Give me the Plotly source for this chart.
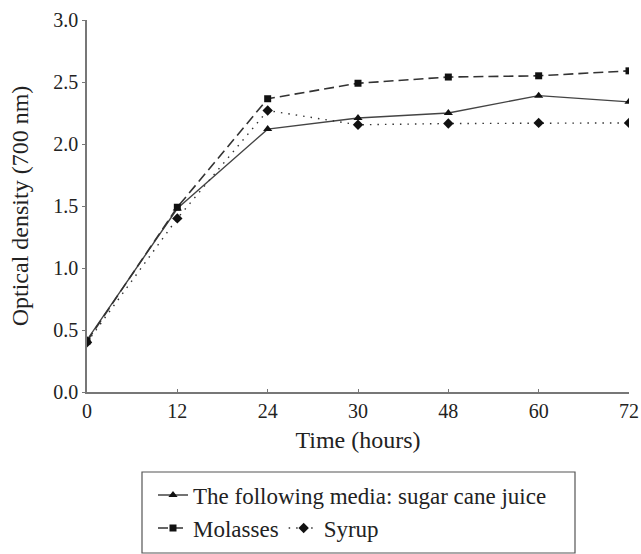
import plotly.graph_objects as go

time_labels = ["0", "12", "24", "30", "48", "60", "72"]
sugar_cane = [0.42, 1.48, 2.12, 2.21, 2.25, 2.39, 2.34]
molasses = [0.41, 1.49, 2.365, 2.49, 2.54, 2.55, 2.59]
syrup = [0.40, 1.40, 2.27, 2.155, 2.165, 2.17, 2.17]

FONT = "Liberation Serif"
TXT = "#222222"
W, H = 641, 554
ML, MT, PW, PH = 87, 20, 542, 372

fig = go.Figure()
fig.add_trace(go.Scatter(
    x=time_labels, y=sugar_cane, mode="lines+markers",
    name="The following media: sugar cane juice",
    line=dict(color="#444444", width=1.4, dash="solid"),
    marker=dict(symbol="triangle-up", size=8, color="#111111"),
    legend="legend",
))
fig.add_trace(go.Scatter(
    x=time_labels, y=molasses, mode="lines+markers",
    name="Molasses",
    line=dict(color="#333333", width=1.6, dash="10px,5px"),
    marker=dict(symbol="square", size=7, color="#111111"),
    legend="legend2",
))
fig.add_trace(go.Scatter(
    x=time_labels, y=syrup, mode="lines+markers",
    name="Syrup",
    line=dict(color="#333333", width=1.4, dash="1.5px,6px"),
    marker=dict(symbol="diamond", size=8, color="#111111"),
    legend="legend2",
))

fig.update_layout(
    width=W, height=H,
    margin=dict(l=ML, r=W - ML - PW, t=MT, b=H - MT - PH),
    paper_bgcolor="white", plot_bgcolor="white",
    font=dict(family=FONT, size=20, color=TXT),
    showlegend=True,
    legend=dict(
        xref="container", yref="container",
        x=153 / W, y=1 - 495 / H, xanchor="left", yanchor="middle",
        orientation="h", bgcolor="rgba(0,0,0,0)", borderwidth=0,
        font=dict(family=FONT, size=23, color=TXT),
        itemwidth=30,
    ),
    legend2=dict(
        xref="container", yref="container",
        x=153 / W, y=1 - 528 / H, xanchor="left", yanchor="middle",
        orientation="h", bgcolor="rgba(0,0,0,0)", borderwidth=0,
        font=dict(family=FONT, size=23, color=TXT),
        itemwidth=30,
    ),
    shapes=[dict(
        type="rect", xref="paper", yref="paper",
        x0=(142 - 87) / PW, x1=(575 - 87) / PW,
        y0=(392 - 553) / PH, y1=(392 - 472) / PH,
        line=dict(color="#555555", width=1.2), fillcolor="rgba(0,0,0,0)",
    )],
)

fig.update_xaxes(
    type="category", range=[0, 6], automargin=False,
    showline=True, linecolor="#777777", linewidth=1.5,
    ticks="inside", ticklen=3, tickcolor="#777777",
    showgrid=False, zeroline=False,
    title=dict(text="Time (hours)", standoff=10),
    tickfont=dict(family=FONT, size=20, color=TXT),
)
fig.update_yaxes(
    range=[0, 3], dtick=0.5, tickformat=".1f", automargin=False,
    showline=True, linecolor="#777777", linewidth=1.5,
    ticks="outside", ticklen=3, tickcolor="#777777",
    showgrid=False, zeroline=False,
    title=dict(text="Optical density (700 nm)", standoff=18),
    tickfont=dict(family=FONT, size=20, color=TXT),
)

fig.write_html(
    "out.html",
    config={"displayModeBar": False},
    post_script="document.body.style.margin='0';document.body.style.overflow='hidden';",
)
